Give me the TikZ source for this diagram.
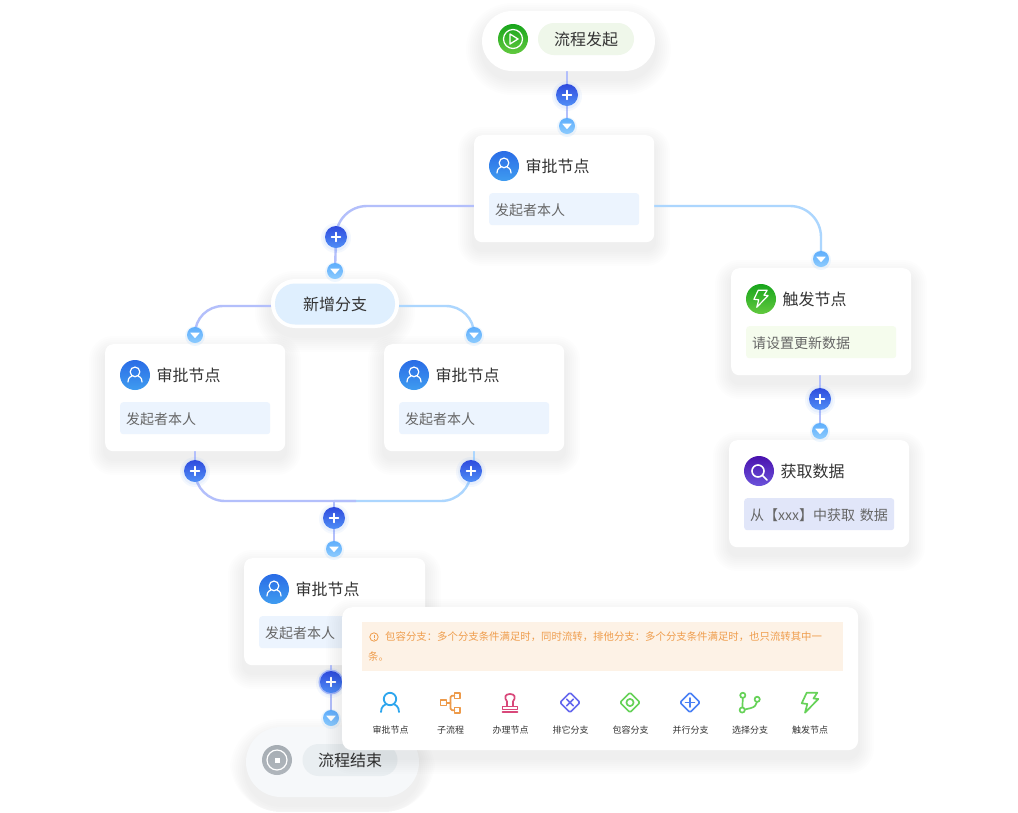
\documentclass[tikz,border=0pt]{standalone}
\usepackage{fontspec}
\setmainfont{Noto Sans CJK SC}
\usetikzlibrary{calc}
\pgfdeclarelayer{shadowlayer}
\pgfdeclarelayer{connlayer}
\pgfsetlayers{shadowlayer,connlayer,main}
\definecolor{txtdark}{HTML}{333333}
\definecolor{txtgray}{HTML}{666666}
\definecolor{lineblue}{HTML}{B3BFFB}
\definecolor{linesky}{HTML}{ACD6FE}
\definecolor{cOrange}{HTML}{ED9A4A}
\definecolor{cPink}{HTML}{D9487A}
\definecolor{cViolet}{HTML}{6668EE}
\definecolor{cGreen}{HTML}{66D258}
\definecolor{cBlue}{HTML}{4A80F5}
\definecolor{cSky}{HTML}{2EA6EE}
\definecolor{plusTop}{HTML}{2F4BDE}\definecolor{plusBot}{HTML}{4F8EF6}
\definecolor{arrTop}{HTML}{5FAEFC}\definecolor{arrBot}{HTML}{8CCBFE}
\definecolor{blueA}{HTML}{2A6CE6}\definecolor{blueB}{HTML}{3F9CF0}
\definecolor{greenA}{HTML}{18A51C}\definecolor{greenB}{HTML}{62C93F}
\definecolor{purpA}{HTML}{4A12AE}\definecolor{purpB}{HTML}{6A52DA}
\definecolor{grayA}{HTML}{A6ADB3}\definecolor{grayB}{HTML}{B0B6BC}
\definecolor{tagBlue}{HTML}{ECF4FE}
\definecolor{tagGreen}{HTML}{F5FCED}
\definecolor{tagPurple}{HTML}{E1E6F9}
\definecolor{tagStart}{HTML}{EFF7EA}
\definecolor{tagEnd}{HTML}{E9EEF1}
\definecolor{pillBlue}{HTML}{DFEFFE}
\definecolor{endFill}{HTML}{F6F8FA}
\definecolor{warnFill}{HTML}{FDF2E6}
\definecolor{warnText}{HTML}{EF9D4D}
\tikzset{
  conn/.style={draw=lineblue,line width=2.4pt},
  connsky/.style={draw=linesky,line width=2.4pt},
  cardnode/.style={fill=white,rounded corners=8pt,inner sep=0pt,anchor=north west,draw=none},
  tagnode/.style={rounded corners=3pt,inner sep=0pt,anchor=north west,minimum width=150pt,minimum height=32pt,text width=138pt,align=left,text height=13pt,text depth=0pt,font=\fontsize{14}{16}\selectfont,text=txtgray},
  titlenode/.style={anchor=west,inner sep=0pt,font=\fontsize{16}{18}\selectfont,text=txtdark},
  iconnode/.style={circle,inner sep=0pt,minimum size=30pt},
  plusbtn/.style={circle,inner sep=0pt,minimum size=22pt,top color=plusTop,bottom color=plusBot},
  arrowbtn/.style={circle,inner sep=0pt,minimum size=16pt,top color=arrTop,bottom color=arrBot},
  pilltag/.style={rounded corners=16pt,inner sep=0pt,minimum height=32pt,font=\fontsize{16}{18}\selectfont,text=txtdark},
  rowlabel/.style={inner sep=0pt,font=\fontsize{9}{11}\selectfont,text=txtdark},
  warnline/.style={inner sep=0pt,anchor=west,font=\fontsize{10.4}{12}\selectfont,text=warnText},
  rowicon/.style={line width=1.7pt,line join=round,line cap=round},
  white glyph/.style={draw=white,line width=1.4pt,line cap=round,line join=round},
}
% x1 y1 x2 y2 radius
\newcommand\softshadow[5]{%
  \foreach \k in {1,...,8}{%
    \fill[black,opacity=.006,rounded corners=#5pt+\k*2pt]
      ({#1-\k*2},{#2+8-\k*2}) rectangle ({#3+\k*2},{min(#4+8+\k*2,812)});
  }}
% name, x, y, width, icon top, icon bottom, title, tag colour, tag text
\newcommand\flowcard[9]{%
  \begin{pgfonlayer}{shadowlayer}\softshadow{#2}{#3}{#2+#4}{#3+107}{8}\end{pgfonlayer}
  \begin{scope}[shift={(#2,#3)}]
    \node[cardnode,minimum width=#4pt,minimum height=107pt] (#1) at (0,0) {};
    \node[iconnode,top color=#5,bottom color=#6] (#1i) at (30,31) {};
    \node[titlenode] (#1t) at (51.5,31.5) {#7};
    \node[tagnode,fill=#8] (#1s) at (15,58) {#9};
  \end{scope}}
\newcommand\plusglyph[1]{\draw[white glyph] ($(#1)+(-4.5,0)$) -- ($(#1)+(4.5,0)$) ($(#1)+(0,-4.5)$) -- ($(#1)+(0,4.5)$);}
\newcommand\arrowglyph[1]{\fill[white,rounded corners=.6pt] ($(#1)+(-5,-2.5)$) -- ($(#1)+(5,-2.5)$) -- ($(#1)+(0,3.2)$) -- cycle;}
\newcommand\plusat[3]{%
  \fill[plusBot,opacity=.06] (#2,#3+1) circle (15pt);
  \fill[plusBot,opacity=.08] (#2,#3+1) circle (13pt);
  \node[plusbtn] (#1) at (#2,#3) {}; \plusglyph{#1}}
\newcommand\arrowat[3]{%
  \fill[arrTop,opacity=.10] (#2,#3+1) circle (10pt);
  \node[arrowbtn] (#1) at (#2,#3) {}; \arrowglyph{#1}}
\newcommand\personglyph[4]{% x y scale style
  \begin{scope}[shift={(#1,#2)},scale=#3]
    \draw[#4] (0,-4) circle (6.2);
    \draw[#4] (-9,9) .. controls (-9,3) and (-5,1.6) .. (-3.6,1.2);
    \draw[#4] (9,9) .. controls (9,3) and (5,1.6) .. (3.6,1.2);
  \end{scope}}
\newcommand\boltglyph[4]{% x y scale style
  \begin{scope}[shift={(#1,#2)},scale=#3]
    \draw[#4] (-3.3,-10.3) -- (7.3,-10.3) -- (3.5,-4.5) -- (8.3,-4) -- (-5,9.7) -- (-2.7,1) -- (-8.3,.3) -- cycle;
  \end{scope}}
\newcommand\diamondglyph[3]{% x y colour
  \draw[rowicon,draw=#3,rounded corners=1.5pt] (#1-10,#2) -- (#1,#2-10) -- (#1+10,#2) -- (#1,#2+10) -- cycle;}
\begin{document}
\begin{tikzpicture}[x=1pt,y=-1pt]
\useasboundingbox (0,0) rectangle (1018,812);
\begin{pgfonlayer}{shadowlayer}\fill[white] (0,0) rectangle (1018,812);\end{pgfonlayer}
% start pill
\begin{pgfonlayer}{shadowlayer}\softshadow{482}{11}{655}{71}{30}\end{pgfonlayer}
\node[fill=white,rounded corners=30pt,inner sep=0pt,minimum width=173pt,minimum height=60pt] (start) at (568.5,41) {};
\node[iconnode,top color=greenA,bottom color=greenB] (startI) at (513,39) {};
\draw[white,line width=1.2pt] (startI) circle (9.5pt);
\draw[white,line width=1.3pt,line join=round] (510,34) -- (518,39) -- (510,44) -- cycle;
\node[pilltag,fill=tagStart,minimum width=96pt] (startT) at (586,39) {流程发起};
% cards
\flowcard{c1}{474}{135}{180}{blueA}{blueB}{审批节点}{tagBlue}{发起者本人}
\personglyph{504}{166}{.78}{white,line width=1.2pt,line cap=round}
\flowcard{c2}{105}{344}{180}{blueA}{blueB}{审批节点}{tagBlue}{发起者本人}
\personglyph{135}{375}{.78}{white,line width=1.2pt,line cap=round}
\flowcard{c3}{384}{344}{180}{blueA}{blueB}{审批节点}{tagBlue}{发起者本人}
\personglyph{414}{375}{.78}{white,line width=1.2pt,line cap=round}
\flowcard{c4}{244}{558}{181}{blueA}{blueB}{审批节点}{tagBlue}{发起者本人}
\personglyph{274}{589}{.78}{white,line width=1.2pt,line cap=round}
\flowcard{c5}{731}{268}{180}{greenA}{greenB}{触发节点}{tagGreen}{请设置更新数据}
\boltglyph{761}{299}{.85}{white,line width=1.2pt,line join=round}
\flowcard{c6}{729}{440}{180}{purpA}{purpB}{获取数据}{tagPurple}{从【xxx】中获取 数据}
\draw[white,line width=1.6pt] (758,471) circle (6pt);
\draw[white,line width=1.6pt,line cap=round] (762.5,475.5) -- (767,480);
% branch pill
\begin{pgfonlayer}{shadowlayer}\softshadow{271}{279}{399}{328}{24}\end{pgfonlayer}
\node[fill=white,rounded corners=24pt,inner sep=0pt,minimum width=128pt,minimum height=49pt] (branch) at (335,303.5) {};
\node[fill=pillBlue,rounded corners=20pt,inner sep=0pt,minimum width=120pt,minimum height=41pt,font=\fontsize{16}{18}\selectfont,text=txtdark] (branchT) at (335,304) {新增分支};
% end pill
\begin{pgfonlayer}{shadowlayer}\softshadow{246}{727}{419}{797}{35}\end{pgfonlayer}
\node[fill=endFill,rounded corners=35pt,inner sep=0pt,minimum width=173pt,minimum height=70pt] (finish) at (332.5,762) {};
\node[iconnode,top color=grayA,bottom color=grayB] (finishI) at (277,760) {};
\draw[white,line width=1.2pt] (finishI) circle (10pt);
\fill[white] (274.5,757.5) rectangle (279.5,762.5);
\node[pilltag,fill=tagEnd,minimum width=95pt] (finishT) at (350,760) {流程结束};
% buttons
\plusat{p1}{567}{95}
\arrowat{a1}{567}{126}
\plusat{p2}{336}{237}
\arrowat{a2}{335}{271}
\arrowat{a3}{195}{335}
\arrowat{a4}{474}{335}
\plusat{p3}{195}{471}
\plusat{p4}{471}{471}
\plusat{p5}{334}{518}
\arrowat{a5}{334}{549}
\plusat{p7}{820}{399}
\arrowat{a8}{820}{431}
\arrowat{a7}{821}{259}
\arrowat{a6}{331}{718}
\fill[lineblue] (331,682) circle (12.5pt);
\plusat{p6}{331}{682}
\coordinate (c1l) at (474,206);
\coordinate (c1r) at (654,206);
\coordinate (joint) at (334,501);
\coordinate (jointb) at (356,501);
\coordinate (brl) at (271,306);
\coordinate (brr) at (399,306);
% connectors
\begin{pgfonlayer}{connlayer}
  \draw[conn] (start.south -| p1) -- (p1.center) -- (a1.center);
  \draw[conn,rounded corners=31pt] (c1l) -| (p2.center);
  \draw[conn] (p2.center) -- (a2.center);
  \draw[connsky,rounded corners=31pt] (c1r) -| (a7.center);
  \draw[conn,rounded corners=28pt] (brl) -| (a3.center);
  \draw[connsky,rounded corners=28pt] (brr) -| (a4.center);
  \draw[conn] (c2.south -| p3) -- (p3.center);
  \draw[connsky] (c3.south -| a4) -- ++(0,15);
  \draw[connsky,rounded corners=30pt] (p4.center) |- (joint);
  \draw[conn,rounded corners=30pt] (p3.center) |- (jointb);
  \draw[conn] (joint) -- (p5.center) -- (a5.center);
  \draw[conn] (c4.south -| p6) -- (p6.center) -- (a6.center);
  \draw[conn] (c5.south -| p7) -- (p7.center) -- (a8.center);
\end{pgfonlayer}
% panel
\softshadow{342}{607}{858}{750}{10}
\node[cardnode,rounded corners=10pt,minimum width=516pt,minimum height=143pt] (panel) at (342,607) {};
\node[fill=warnFill,inner sep=0pt,anchor=north west,minimum width=481pt,minimum height=49pt] (warn) at (362,622) {};
\draw[warnText,line width=.8pt] (374,637) circle (4.2pt);
\draw[warnText,line width=.9pt] (374,634.8) -- (374,637.6) (374,638.6) -- (374,639.4);
\node[warnline] (warn1) at (385,637) {包容分支：多个分支条件满足时，同时流转，排他分支：多个分支条件满足时，也只流转其中一};
\node[warnline] (warn2) at (368,657) {条。};
% row icons
\personglyph{390}{703}{1}{cSky,rowicon,line width=1.8pt}
\begin{scope}[draw=cOrange,rowicon]
  \draw (440.5,700) rectangle (446.5,705.5);
  \draw (454.5,693) rectangle (460,698.5);
  \draw (454.5,707.5) rectangle (460,713);
  \draw (446.5,702.7) -- (450.5,702.7);
  \draw (454.5,695.7) -- (452,695.7) -- (450.5,697) -- (450.5,708.5) -- (452,710.2) -- (454.5,710.2);
\end{scope}
\begin{scope}[draw=cPink,rowicon]
  \draw (507,706) -- (507,701.5) .. controls (503.5,697) and (505.5,694) .. (510,694) .. controls (514.5,694) and (516.5,697) .. (513,701.5) -- (513,706);
  \draw (502.5,709.5) -- (502.5,706.5) -- (517.5,706.5) -- (517.5,709.5) -- cycle;
  \draw (502.5,711.8) -- (517.5,711.8);
\end{scope}
\diamondglyph{570}{702.5}{cViolet}
\draw[rowicon,draw=cViolet] (566.8,699.3) -- (573.2,705.7) (573.2,699.3) -- (566.8,705.7);
\diamondglyph{630}{702.5}{cGreen}
\draw[rowicon,draw=cGreen] (630,702.5) circle (3.6pt);
\diamondglyph{690}{702.5}{cBlue}
\draw[rowicon,draw=cBlue] (685.5,702.5) -- (694.5,702.5) (690,698) -- (690,707);
\begin{scope}[draw=cGreen,rowicon]
  \draw (742.8,695.3) circle (2.6pt);
  \draw (757.2,699.3) circle (2.6pt);
  \draw (742.2,710) circle (2.6pt);
  \draw (742.8,698) -- (742.4,707.4);
  \draw (744.8,709.5) -- (751,708) .. controls (755,707) and (756.5,704.5) .. (756.9,702);
\end{scope}
\boltglyph{810}{703}{1}{cGreen,rowicon}
\node[rowlabel] (l1) at (390.5,730) {审批节点};
\node[rowlabel] (l2) at (450.5,730) {子流程};
\node[rowlabel] (l3) at (510.5,730) {办理节点};
\node[rowlabel] (l4) at (570.5,730) {排它分支};
\node[rowlabel] (l5) at (630.5,730) {包容分支};
\node[rowlabel] (l6) at (690.5,730) {并行分支};
\node[rowlabel] (l7) at (750,730) {选择分支};
\node[rowlabel] (l8) at (810,730) {触发节点};
\end{tikzpicture}
\end{document}
